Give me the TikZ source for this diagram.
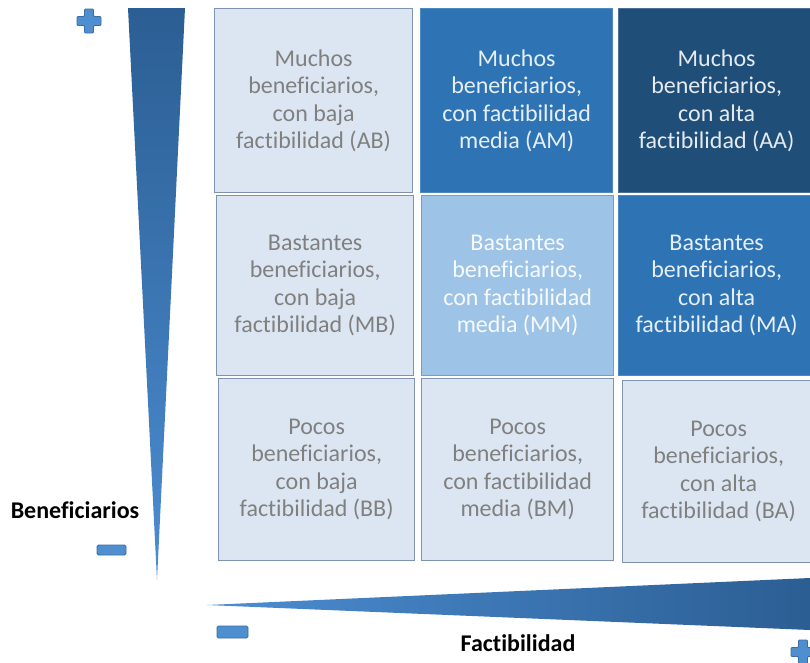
\documentclass[tikz,border=0pt]{standalone}
\usepackage{fontspec}
\setmainfont{Carlito}[Ligatures=NoCommon]
\usetikzlibrary{shadings}
\definecolor{lightfill}{HTML}{DCE6F2}
\definecolor{lightline}{HTML}{7F93B0}
\definecolor{graytext}{HTML}{808080}
\definecolor{midblue}{HTML}{2E74B5}
\definecolor{darkblue}{HTML}{1F4E79}
\definecolor{paleblue}{HTML}{9DC3E6}
\definecolor{wedgedark}{HTML}{2B5E93}
\definecolor{wedgelight}{HTML}{4C8DD2}
\definecolor{signfill}{HTML}{4F8FD0}
\definecolor{signline}{HTML}{3A6EA8}
\begin{document}
\begin{tikzpicture}[x=1pt,y=-1pt,
  cell/.style={anchor=north west, align=center, inner sep=0pt, line width=1.3pt,
    font=\fontsize{24}{27.5}\selectfont},
  lightcell/.style={cell, fill=lightfill, draw=lightline, text=graytext},
  amcell/.style={cell, fill=midblue, draw=midblue!85!white, text=white!88!midblue},
  aacell/.style={cell, fill=darkblue, draw=darkblue!80!white, text=white!88!darkblue},
  mmcell/.style={cell, fill=paleblue, draw=paleblue!80!black, text=white!92!paleblue},
  axislabel/.style={font=\fontsize{24}{28}\selectfont\bfseries, text=black, inner sep=0pt},
  signshape/.style={fill=signfill, draw=signline, line width=0.8pt}
]
\useasboundingbox (0,0) rectangle (810,662);
\fill[white] (0,0) rectangle (810,662);

% vertical wedge (Beneficiarios)
\shade[top color=wedgedark, bottom color=wedgelight] (128,8) -- (185,8) -- (157,580) -- cycle;
% horizontal wedge (Factibilidad)
\shade[left color=wedgelight, right color=wedgedark] (207,605) -- (810,578) -- (810,630) -- cycle;

% signs
\path[signshape, rounded corners=1pt] (84.5,9) -- (93.5,9) -- (93.5,16.5) -- (101,16.5) -- (101,25.5) -- (93.5,25.5) -- (93.5,33) -- (84.5,33) -- (84.5,25.5) -- (77,25.5) -- (77,16.5) -- (84.5,16.5) -- cycle;
\path[signshape, rounded corners=1pt] (798.5,640) -- (807.5,640) -- (807.5,647.5) -- (815,647.5) -- (815,656.5) -- (807.5,656.5) -- (807.5,664) -- (798.5,664) -- (798.5,656.5) -- (791,656.5) -- (791,647.5) -- (798.5,647.5) -- cycle;
\path[signshape, rounded corners=1.5pt] (97,545) rectangle (126,555);
\path[signshape, rounded corners=1.5pt] (217,626) rectangle (248,638);

% axis labels
\node[axislabel] (benef) at (75,510) {Beneficiarios};
\node[axislabel] (fact) at (518,643) {Factibilidad};

% matrix cells
\node[lightcell, minimum width=198pt, minimum height=184pt] (AB) at (214,8)
  {Muchos\\beneficiarios,\\con baja\\factibilidad (AB)};
\node[amcell, minimum width=192pt, minimum height=184pt] (AM) at (420,8)
  {Muchos\\beneficiarios,\\con factibilidad\\media (AM)};
\node[aacell, minimum width=196pt, minimum height=184pt] (AA) at (618,8)
  {Muchos\\beneficiarios,\\con alta\\factibilidad (AA)};

\node[lightcell, minimum width=197pt, minimum height=180pt] (MB) at (216,195)
  {Bastantes\\beneficiarios,\\con baja\\factibilidad (MB)};
\node[mmcell, minimum width=192pt, minimum height=180pt] (MM) at (421,195)
  {Bastantes\\beneficiarios,\\con factibilidad\\media (MM)};
\node[amcell, minimum width=196pt, minimum height=180pt] (MA) at (618,195)
  {Bastantes\\beneficiarios,\\con alta\\factibilidad (MA)};

\node[lightcell, minimum width=196pt, minimum height=182pt] (BB) at (218,378)
  {Pocos\\beneficiarios,\\con baja\\factibilidad (BB)};
\node[lightcell, minimum width=192pt, minimum height=182pt] (BM) at (421,378)
  {Pocos\\beneficiarios,\\con factibilidad\\media (BM)};
\node[lightcell, minimum width=192pt, minimum height=182pt] (BA) at (622,380)
  {Pocos\\beneficiarios,\\con alta\\factibilidad (BA)};
\end{tikzpicture}
\end{document}
